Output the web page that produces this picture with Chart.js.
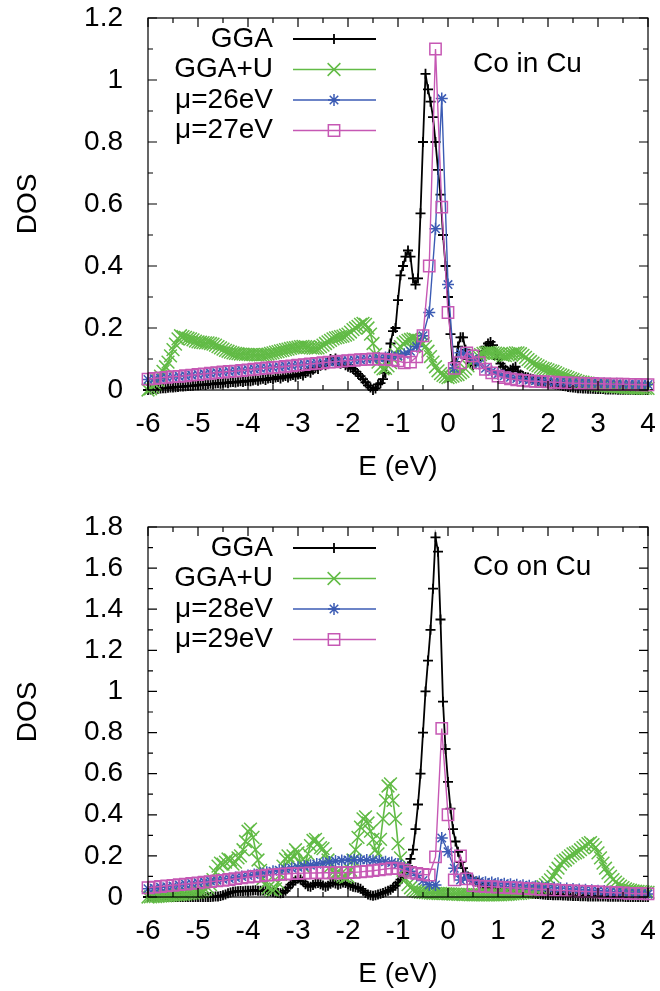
<!DOCTYPE html>
<html lang="en">
<head>
<meta charset="utf-8">
<title>DOS - Co in Cu / Co on Cu</title>
<script src="https://cdn.jsdelivr.net/npm/chart.js"></script>
<style>
  body { margin: 0; background: #fff; }
  #page { position: relative; width: 660px; height: 991px; }
  .panel { position: absolute; left: 0; width: 660px; }
</style>
</head>
<body>
<div id="page">
  <div class="panel" style="top:0;height:490px"><canvas id="dosIn"></canvas></div>
  <div class="panel" style="top:509px;height:482px"><canvas id="dosOn"></canvas></div>
</div>
<script>
// energy grids (eV)
const eDense = [
  -6, -5.95, -5.9, -5.85, -5.8, -5.75, -5.7, -5.65, -5.6, -5.55, -5.5, -5.45, -5.4, -5.35, -5.3, -5.25, -5.2, -5.15, -5.1, -5.05,
  -5, -4.95, -4.9, -4.85, -4.8, -4.75, -4.7, -4.65, -4.6, -4.55, -4.5, -4.45, -4.4, -4.35, -4.3, -4.25, -4.2, -4.15, -4.1, -4.05,
  -4, -3.95, -3.9, -3.85, -3.8, -3.75, -3.7, -3.65, -3.6, -3.55, -3.5, -3.45, -3.4, -3.35, -3.3, -3.25, -3.2, -3.15, -3.1, -3.05,
  -3, -2.95, -2.9, -2.85, -2.8, -2.75, -2.7, -2.65, -2.6, -2.55, -2.5, -2.45, -2.4, -2.35, -2.3, -2.25, -2.2, -2.15, -2.1, -2.05,
  -2, -1.95, -1.9, -1.85, -1.8, -1.75, -1.7, -1.65, -1.6, -1.55, -1.5, -1.45, -1.4, -1.35, -1.3, -1.25, -1.2, -1.15, -1.1, -1.05,
  -1, -0.95, -0.9, -0.85, -0.8, -0.75, -0.7, -0.65, -0.6, -0.55, -0.5, -0.45, -0.4, -0.35, -0.3, -0.25, -0.2, -0.15, -0.1, -0.05,
  0, 0.05, 0.1, 0.15, 0.2, 0.25, 0.3, 0.35, 0.4, 0.45, 0.5, 0.55, 0.6, 0.65, 0.7, 0.75, 0.8, 0.85, 0.9, 0.95,
  1, 1.05, 1.1, 1.15, 1.2, 1.25, 1.3, 1.35, 1.4, 1.45, 1.5, 1.55, 1.6, 1.65, 1.7, 1.75, 1.8, 1.85, 1.9, 1.95,
  2, 2.05, 2.1, 2.15, 2.2, 2.25, 2.3, 2.35, 2.4, 2.45, 2.5, 2.55, 2.6, 2.65, 2.7, 2.75, 2.8, 2.85, 2.9, 2.95,
  3, 3.05, 3.1, 3.15, 3.2, 3.25, 3.3, 3.35, 3.4, 3.45, 3.5, 3.55, 3.6, 3.65, 3.7, 3.75, 3.8, 3.85, 3.9, 3.95, 4
];
const eMu = [
  -6, -5.875, -5.75, -5.625, -5.5, -5.375, -5.25, -5.125,
  -5, -4.875, -4.75, -4.625, -4.5, -4.375, -4.25, -4.125,
  -4, -3.875, -3.75, -3.625, -3.5, -3.375, -3.25, -3.125,
  -3, -2.875, -2.75, -2.625, -2.5, -2.375, -2.25, -2.125,
  -2, -1.875, -1.75, -1.625, -1.5, -1.375, -1.25, -1.125,
  -1, -0.875, -0.75, -0.625, -0.5, -0.375, -0.25, -0.125,
  0, 0.125, 0.25, 0.375, 0.5, 0.625, 0.75, 0.875,
  1, 1.125, 1.25, 1.375, 1.5, 1.625, 1.75, 1.875,
  2, 2.125, 2.25, 2.375, 2.5, 2.625, 2.75, 2.875,
  3, 3.125, 3.25, 3.375, 3.5, 3.625, 3.75, 3.875, 4
];

// Co in Cu
const ggaIn = [
  0.000, 0.002, 0.003, 0.003, 0.004, 0.005, 0.006, 0.006, 0.007, 0.008, 0.008, 0.009, 0.010, 0.011, 0.011, 0.012, 0.013, 0.013, 0.014, 0.015,
  0.015, 0.016, 0.018, 0.016, 0.019, 0.020, 0.018, 0.021, 0.022, 0.020, 0.023, 0.024, 0.022, 0.025, 0.026, 0.024, 0.027, 0.028, 0.026, 0.029,
  0.030, 0.028, 0.031, 0.033, 0.030, 0.034, 0.036, 0.032, 0.037, 0.039, 0.034, 0.040, 0.042, 0.037, 0.043, 0.045, 0.040, 0.046, 0.048, 0.043,
  0.050, 0.052, 0.047, 0.055, 0.060, 0.056, 0.065, 0.072, 0.068, 0.078, 0.085, 0.080, 0.092, 0.100, 0.095, 0.102, 0.092, 0.085, 0.088, 0.080,
  0.075, 0.072, 0.068, 0.060, 0.052, 0.045, 0.035, 0.025, 0.015, 0.008, 0.000, 0.005, 0.018, 0.022, 0.035, 0.055, 0.095, 0.150, 0.190, 0.200,
  0.290, 0.370, 0.400, 0.430, 0.450, 0.430, 0.360, 0.340, 0.360, 0.570, 0.800, 1.020, 0.970, 0.930, 0.880, 0.800, 0.710, 0.630, 0.500, 0.400,
  0.300, 0.180, 0.070, 0.090, 0.140, 0.170, 0.170, 0.130, 0.100, 0.085, 0.080, 0.085, 0.100, 0.110, 0.125, 0.140, 0.150, 0.155, 0.145, 0.120,
  0.100, 0.085, 0.075, 0.065, 0.060, 0.065, 0.070, 0.075, 0.060, 0.050, 0.045, 0.042, 0.040, 0.037, 0.035, 0.032, 0.030, 0.029, 0.027, 0.026,
  0.024, 0.022, 0.020, 0.018, 0.017, 0.015, 0.013, 0.012, 0.010, 0.009, 0.008, 0.007, 0.006, 0.006, 0.005, 0.005, 0.004, 0.004, 0.004, 0.003,
  0.003, 0.003, 0.003, 0.002, 0.002, 0.002, 0.002, 0.002, 0.001, 0.001, 0.001, 0.001, 0.001, 0.001, 0.001, 0.000, 0.000, 0.000, 0.000, 0.000, 0.000
];
const ggaUIn = [
  0.000, 0.004, 0.010, 0.018, 0.030, 0.045, 0.060, 0.075, 0.090, 0.110, 0.130, 0.148, 0.165, 0.175, 0.172, 0.170, 0.167, 0.165, 0.162, 0.158,
  0.155, 0.154, 0.153, 0.152, 0.152, 0.150, 0.148, 0.145, 0.140, 0.136, 0.132, 0.128, 0.125, 0.122, 0.120, 0.118, 0.117, 0.116, 0.116, 0.115,
  0.115, 0.114, 0.114, 0.113, 0.113, 0.113, 0.114, 0.115, 0.116, 0.118, 0.120, 0.122, 0.124, 0.126, 0.128, 0.130, 0.132, 0.134, 0.136, 0.137,
  0.138, 0.140, 0.141, 0.140, 0.138, 0.136, 0.135, 0.135, 0.136, 0.140, 0.145, 0.150, 0.155, 0.160, 0.165, 0.168, 0.170, 0.172, 0.174, 0.177,
  0.180, 0.187, 0.195, 0.200, 0.205, 0.212, 0.215, 0.212, 0.200, 0.180, 0.150, 0.115, 0.090, 0.075, 0.068, 0.070, 0.078, 0.088, 0.100, 0.115,
  0.130, 0.140, 0.150, 0.155, 0.160, 0.163, 0.165, 0.163, 0.160, 0.155, 0.150, 0.140, 0.125, 0.108, 0.090, 0.075, 0.062, 0.053, 0.047, 0.043,
  0.040, 0.042, 0.045, 0.048, 0.050, 0.055, 0.060, 0.068, 0.078, 0.088, 0.097, 0.104, 0.110, 0.114, 0.118, 0.120, 0.121, 0.121, 0.120, 0.119,
  0.118, 0.115, 0.112, 0.111, 0.113, 0.116, 0.118, 0.120, 0.120, 0.117, 0.112, 0.105, 0.098, 0.092, 0.087, 0.082, 0.078, 0.074, 0.070, 0.068,
  0.065, 0.062, 0.060, 0.056, 0.052, 0.049, 0.046, 0.043, 0.040, 0.037, 0.034, 0.031, 0.028, 0.026, 0.025, 0.023, 0.022, 0.020, 0.019, 0.017,
  0.016, 0.015, 0.014, 0.013, 0.012, 0.011, 0.011, 0.010, 0.010, 0.009, 0.009, 0.008, 0.008, 0.007, 0.007, 0.006, 0.006, 0.006, 0.005, 0.005, 0.005
];
const mu26In = [
  0.034, 0.036, 0.038, 0.040, 0.042, 0.044, 0.046, 0.048,
  0.050, 0.052, 0.054, 0.056, 0.058, 0.060, 0.062, 0.064,
  0.066, 0.068, 0.070, 0.071, 0.073, 0.075, 0.077, 0.079,
  0.081, 0.083, 0.085, 0.087, 0.088, 0.090, 0.092, 0.094,
  0.095, 0.097, 0.098, 0.100, 0.101, 0.103, 0.105, 0.108,
  0.110, 0.115, 0.125, 0.140, 0.175, 0.250, 0.520, 0.940,
  0.340, 0.070, 0.120, 0.115, 0.100, 0.085, 0.070, 0.060,
  0.052, 0.046, 0.041, 0.037, 0.034, 0.032, 0.030, 0.029,
  0.027, 0.026, 0.025, 0.024, 0.024, 0.023, 0.022, 0.022,
  0.021, 0.021, 0.020, 0.020, 0.019, 0.019, 0.018, 0.018, 0.018
];
const mu27In = [
  0.035, 0.037, 0.039, 0.041, 0.043, 0.044, 0.046, 0.048,
  0.050, 0.052, 0.054, 0.056, 0.058, 0.060, 0.061, 0.063,
  0.065, 0.067, 0.069, 0.071, 0.073, 0.074, 0.076, 0.078,
  0.080, 0.082, 0.084, 0.086, 0.088, 0.090, 0.091, 0.093,
  0.095, 0.096, 0.098, 0.099, 0.100, 0.100, 0.099, 0.097,
  0.094, 0.088, 0.090, 0.107, 0.175, 0.400, 1.100, 0.590,
  0.250, 0.070, 0.088, 0.120, 0.110, 0.088, 0.067, 0.055,
  0.045, 0.040, 0.036, 0.033, 0.031, 0.029, 0.028, 0.027,
  0.026, 0.025, 0.024, 0.023, 0.022, 0.022, 0.021, 0.021,
  0.020, 0.020, 0.019, 0.019, 0.019, 0.018, 0.018, 0.017, 0.017
];

// Co on Cu
const ggaOn = [
  0.000, 0.000, 0.000, 0.000, 0.000, 0.000, 0.000, 0.000, 0.000, 0.000, 0.000, 0.000, 0.000, 0.000, 0.000, 0.000, 0.000, 0.000, 0.000, 0.000,
  0.000, 0.000, 0.000, 0.000, 0.000, 0.000, 0.001, 0.002, 0.003, 0.005, 0.008, 0.012, 0.018, 0.022, 0.025, 0.027, 0.028, 0.029, 0.028, 0.030,
  0.031, 0.030, 0.032, 0.033, 0.031, 0.030, 0.032, 0.033, 0.030, 0.027, 0.025, 0.022, 0.020, 0.018, 0.020, 0.030, 0.045, 0.060, 0.070, 0.080,
  0.090, 0.085, 0.075, 0.062, 0.052, 0.050, 0.058, 0.066, 0.068, 0.062, 0.056, 0.050, 0.055, 0.065, 0.070, 0.066, 0.060, 0.065, 0.070, 0.068,
  0.062, 0.055, 0.050, 0.048, 0.045, 0.040, 0.030, 0.020, 0.012, 0.008, 0.006, 0.008, 0.012, 0.016, 0.020, 0.025, 0.030, 0.035, 0.045, 0.055,
  0.070, 0.085, 0.100, 0.120, 0.150, 0.185, 0.230, 0.330, 0.450, 0.600, 0.800, 1.000, 1.150, 1.300, 1.500, 1.750, 1.680, 1.350, 0.950, 0.720,
  0.560, 0.430, 0.330, 0.270, 0.220, 0.170, 0.140, 0.115, 0.100, 0.090, 0.080, 0.075, 0.070, 0.065, 0.060, 0.055, 0.050, 0.045, 0.040, 0.037,
  0.034, 0.033, 0.031, 0.030, 0.028, 0.027, 0.025, 0.024, 0.022, 0.021, 0.020, 0.019, 0.018, 0.017, 0.016, 0.015, 0.014, 0.013, 0.012, 0.011,
  0.010, 0.010, 0.009, 0.009, 0.008, 0.008, 0.007, 0.007, 0.006, 0.006, 0.005, 0.005, 0.005, 0.004, 0.004, 0.004, 0.003, 0.003, 0.003, 0.002,
  0.002, 0.002, 0.002, 0.002, 0.001, 0.001, 0.001, 0.001, 0.001, 0.001, 0.001, 0.000, 0.000, 0.000, 0.000, 0.000, 0.000, 0.000, 0.000, 0.000, 0.000
];
const ggaUOn = [
  0.000, 0.001, 0.002, 0.002, 0.003, 0.004, 0.005, 0.006, 0.007, 0.008, 0.009, 0.010, 0.011, 0.012, 0.013, 0.014, 0.016, 0.018, 0.020, 0.022,
  0.024, 0.027, 0.030, 0.036, 0.045, 0.060, 0.085, 0.120, 0.150, 0.165, 0.160, 0.170, 0.185, 0.180, 0.160, 0.170, 0.190, 0.200, 0.230, 0.270,
  0.320, 0.330, 0.290, 0.230, 0.180, 0.130, 0.090, 0.065, 0.045, 0.035, 0.030, 0.040, 0.070, 0.110, 0.150, 0.185, 0.200, 0.180, 0.200, 0.230,
  0.215, 0.170, 0.150, 0.170, 0.210, 0.250, 0.275, 0.280, 0.260, 0.240, 0.235, 0.210, 0.180, 0.150, 0.120, 0.115, 0.120, 0.110, 0.100, 0.095,
  0.100, 0.130, 0.180, 0.230, 0.290, 0.340, 0.380, 0.390, 0.360, 0.320, 0.280, 0.230, 0.210, 0.280, 0.380, 0.470, 0.540, 0.550, 0.470, 0.380,
  0.260, 0.190, 0.130, 0.090, 0.060, 0.045, 0.035, 0.030, 0.026, 0.024, 0.022, 0.021, 0.020, 0.019, 0.018, 0.018, 0.017, 0.017, 0.016, 0.016,
  0.015, 0.015, 0.014, 0.014, 0.013, 0.013, 0.012, 0.012, 0.012, 0.011, 0.011, 0.011, 0.010, 0.010, 0.010, 0.010, 0.010, 0.010, 0.010, 0.010,
  0.011, 0.011, 0.012, 0.012, 0.013, 0.014, 0.015, 0.016, 0.017, 0.018, 0.020, 0.022, 0.024, 0.027, 0.030, 0.034, 0.038, 0.043, 0.050, 0.060,
  0.070, 0.083, 0.100, 0.120, 0.140, 0.160, 0.175, 0.180, 0.190, 0.200, 0.210, 0.215, 0.220, 0.230, 0.240, 0.250, 0.260, 0.265, 0.255, 0.240,
  0.215, 0.190, 0.165, 0.140, 0.117, 0.100, 0.085, 0.072, 0.062, 0.053, 0.046, 0.040, 0.036, 0.033, 0.030, 0.028, 0.027, 0.026, 0.025, 0.024, 0.023
];
const mu28On = [
  0.040, 0.043, 0.047, 0.050, 0.054, 0.058, 0.062, 0.066,
  0.070, 0.074, 0.078, 0.082, 0.086, 0.090, 0.095, 0.100,
  0.105, 0.110, 0.115, 0.120, 0.125, 0.130, 0.135, 0.140,
  0.145, 0.150, 0.155, 0.160, 0.165, 0.170, 0.175, 0.178,
  0.180, 0.181, 0.181, 0.180, 0.178, 0.175, 0.172, 0.168,
  0.160, 0.145, 0.125, 0.105, 0.080, 0.060, 0.058, 0.287,
  0.220, 0.140, 0.083, 0.095, 0.080, 0.075, 0.072, 0.070,
  0.067, 0.065, 0.062, 0.060, 0.057, 0.055, 0.052, 0.050,
  0.047, 0.045, 0.043, 0.041, 0.039, 0.037, 0.035, 0.033,
  0.031, 0.029, 0.027, 0.025, 0.023, 0.021, 0.019, 0.017, 0.015
];
const mu29On = [
  0.045, 0.048, 0.051, 0.054, 0.057, 0.060, 0.063, 0.066,
  0.069, 0.072, 0.075, 0.078, 0.081, 0.085, 0.089, 0.093,
  0.097, 0.100, 0.103, 0.106, 0.108, 0.110, 0.112, 0.114,
  0.115, 0.116, 0.117, 0.117, 0.118, 0.118, 0.118, 0.118,
  0.119, 0.120, 0.122, 0.125, 0.128, 0.132, 0.136, 0.140,
  0.138, 0.130, 0.120, 0.115, 0.110, 0.107, 0.195, 0.820,
  0.400, 0.083, 0.200, 0.088, 0.055, 0.053, 0.051, 0.050,
  0.048, 0.047, 0.045, 0.044, 0.042, 0.041, 0.039, 0.037,
  0.035, 0.034, 0.032, 0.031, 0.030, 0.028, 0.027, 0.026,
  0.025, 0.023, 0.022, 0.021, 0.020, 0.018, 0.017, 0.016, 0.015
];

const FONT = "'Liberation Sans', Arial, Helvetica, sans-serif";
const FONT_SIZE = 28;
const BLACK = '#000000';
const GREEN = '#62bb46';
const BLUE = '#3b5bb4';
const MAGENTA = '#c658b4';

const styles = {
  gga:  { color: BLACK,   point: 'cross',    radius: 5, line: 1.8, mark: 1.8 },
  ggaU: { color: GREEN,   point: 'crossRot', radius: 9, line: 1.6, mark: 1.5 },
  muA:  { color: BLUE,    point: 'star',     radius: 6, line: 1.4, mark: 1.5 },
  muB:  { color: MAGENTA, point: 'rect',     radius: 8, line: 1.4, mark: 1.5 }
};

function series(xs, ys) {
  return xs.map((x, i) => ({ x: x, y: ys[i] }));
}

function dataset(label, xs, ys, st, order) {
  return {
    label: label,
    data: series(xs, ys),
    borderColor: st.color,
    borderWidth: st.line,
    pointStyle: st.point,
    pointRadius: st.radius,
    pointBorderWidth: st.mark,
    pointBorderColor: st.color,
    pointBackgroundColor: 'rgba(0,0,0,0)',
    tension: 0,
    clip: false,
    order: order
  };
}

// small marker drawer for the in-plot key
function drawMarker(ctx, style, r, x, y) {
  const h = Math.SQRT1_2 * r;
  ctx.beginPath();
  if (style === 'cross' || style === 'star') {
    ctx.moveTo(x - r, y); ctx.lineTo(x + r, y);
    ctx.moveTo(x, y - r); ctx.lineTo(x, y + r);
  }
  if (style === 'crossRot' || style === 'star') {
    ctx.moveTo(x - h, y - h); ctx.lineTo(x + h, y + h);
    ctx.moveTo(x - h, y + h); ctx.lineTo(x + h, y - h);
  }
  if (style === 'rect') {
    ctx.rect(x - h, y - h, 2 * h, 2 * h);
  }
  ctx.stroke();
}

// border, inward ticks, key and panel label (gnuplot look)
const gnuplotDecor = {
  id: 'gnuplotDecor',
  afterDatasetsDraw(chart, args, opts) {
    const { ctx, chartArea: a, scales } = chart;
    const xs = scales.x, ys = scales.y;
    ctx.save();
    ctx.strokeStyle = '#000';
    ctx.lineWidth = 1.2;
    ctx.strokeRect(a.left, a.top, a.right - a.left, a.bottom - a.top);

    ctx.beginPath();
    const nY = Math.round((ys.max - ys.min) / opts.yMinor);
    for (let k = 0; k <= nY; k++) {
      const py = ys.getPixelForValue(ys.min + k * opts.yMinor);
      const len = k % 2 === 0 ? 9 : 5;
      ctx.moveTo(a.left, py); ctx.lineTo(a.left + len, py);
      ctx.moveTo(a.right, py); ctx.lineTo(a.right - len, py);
    }
    const nX = Math.round((xs.max - xs.min) / 0.5);
    for (let k = 0; k <= nX; k++) {
      const px = xs.getPixelForValue(xs.min + k * 0.5);
      const len = k % 2 === 0 ? 9 : 5;
      ctx.moveTo(px, a.bottom); ctx.lineTo(px, a.bottom - len);
      ctx.moveTo(px, a.top); ctx.lineTo(px, a.top + len);
    }
    ctx.stroke();

    ctx.font = FONT_SIZE + 'px ' + FONT;
    ctx.textBaseline = 'middle';
    opts.items.forEach((it, k) => {
      const y = a.top + 21 + k * 30.5;
      ctx.textAlign = 'right';
      ctx.fillStyle = '#000';
      ctx.fillText(it.text, a.left + 125, y);
      ctx.strokeStyle = it.st.color;
      ctx.lineWidth = it.st.line;
      ctx.beginPath();
      ctx.moveTo(a.left + 145, y); ctx.lineTo(a.left + 228, y);
      ctx.stroke();
      ctx.lineWidth = it.st.mark;
      drawMarker(ctx, it.st.point, it.st.radius, a.left + 186, y);
    });

    ctx.textAlign = 'left';
    ctx.fillStyle = '#000';
    ctx.fillText(opts.label, a.left + 325, a.top + opts.labelDy);
    ctx.restore();
  }
};

function makeChart(id, yMax, xHeight, titlePad, datasets, decor) {
  const tickFont = { family: FONT, size: FONT_SIZE };
  return new Chart(document.getElementById(id), {
    type: 'line',
    data: { datasets: datasets },
    options: {
      responsive: true,
      maintainAspectRatio: false,
      animation: false,
      layout: { padding: { top: 18, right: 12, left: 0, bottom: 0 } },
      plugins: {
        legend: { display: false },
        tooltip: { enabled: false },
        gnuplotDecor: decor
      },
      scales: {
        x: {
          type: 'linear', min: -6, max: 4,
          grid: { display: false },
          border: { display: false },
          ticks: { stepSize: 1, color: '#000', font: tickFont, padding: 9, maxRotation: 0, autoSkip: false },
          title: { display: true, text: 'E (eV)', color: '#000', font: tickFont, padding: { top: 0, bottom: titlePad } },
          afterFit: (s) => { s.height = xHeight; s.paddingLeft = 0; s.paddingRight = 0; }
        },
        y: {
          min: 0, max: yMax,
          grid: { display: false },
          border: { display: false },
          ticks: {
            stepSize: 0.2, color: '#000', font: tickFont, padding: 17,
            callback: (v) => String(Number(v.toFixed(1)))
          },
          title: { display: true, text: 'DOS', color: '#000', font: tickFont, padding: { top: 11, bottom: 0 } },
          afterFit: (s) => { s.width = 148; s.paddingTop = 0; s.paddingBottom = 0; }
        }
      }
    },
    plugins: [gnuplotDecor]
  });
}

makeChart('dosIn', 1.2, 100, 6, [
  dataset('GGA', eDense, ggaIn, styles.gga, 4),
  dataset('GGA+U', eDense, ggaUIn, styles.ggaU, 3),
  dataset('\u03bc=26eV', eMu, mu26In, styles.muA, 2),
  dataset('\u03bc=27eV', eMu, mu27In, styles.muB, 1)
], {
  yMinor: 0.1,
  label: 'Co in Cu',
  labelDy: 46,
  items: [
    { text: 'GGA', st: styles.gga },
    { text: 'GGA+U', st: styles.ggaU },
    { text: '\u03bc=26eV', st: styles.muA },
    { text: '\u03bc=27eV', st: styles.muB }
  ]
});

makeChart('dosOn', 1.8, 94, 0, [
  dataset('GGA', eDense, ggaOn, styles.gga, 4),
  dataset('GGA+U', eDense, ggaUOn, styles.ggaU, 3),
  dataset('\u03bc=28eV', eMu, mu28On, styles.muA, 2),
  dataset('\u03bc=29eV', eMu, mu29On, styles.muB, 1)
], {
  yMinor: 0.1,
  label: 'Co on Cu',
  labelDy: 40,
  items: [
    { text: 'GGA', st: styles.gga },
    { text: 'GGA+U', st: styles.ggaU },
    { text: '\u03bc=28eV', st: styles.muA },
    { text: '\u03bc=29eV', st: styles.muB }
  ]
});
</script>
</body>
</html>
